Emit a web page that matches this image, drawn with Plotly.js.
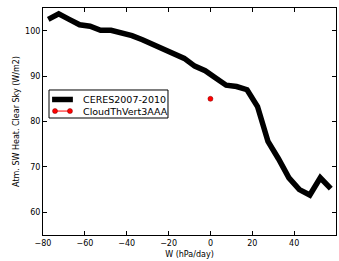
<!DOCTYPE html>
<html>
<head>
<meta charset="utf-8">
<script src="https://cdn.plot.ly/plotly-3.0.1.min.js"></script>
<style>html,body{margin:0;padding:0;background:#fff}#chart{width:339px;height:261px}</style>
</head>
<body>
<div id="chart"></div>
<script>
var omega = [-77.5,-72.5,-67.5,-62.5,-57.5,-52.5,-47.5,-42.5,-37.5,-32.5,-27.5,-22.5,-17.5,-12.5,-7.5,-2.5,2.5,7.5,12.5,17.5,22.5,27.5,32.5,37.5,42.5,47.5,52.5,57.5];
var ceres = [102.5,103.7,102.5,101.3,101.0,100.1,100.1,99.6,98.9,98.0,97.0,96.2,95.0,93.9,92.2,91.2,89.6,88.0,87.7,87.0,83.3,75.6,71.8,67.6,65.0,63.8,67.6,65.2];
var modelX = [0];
var modelY = [85];
var seriesNames = ['CERES2007-2010', 'CloudThVert3AAA'];
var xTicks = [-80,-60,-40,-20,0,20,40,60];
var yTicks = [60,70,80,90,100];

var font = {family: 'DejaVu Sans, sans-serif', size: 8, color: '#000'};
var legFont = {family: 'DejaVu Sans, sans-serif', size: 9.5, color: '#000'};
var data = [
  {x: omega, y: ceres, mode: 'lines', name: seriesNames[0],
   line: {color: '#000', width: 5.5}},
  {x: modelX, y: modelY, mode: 'lines+markers', name: seriesNames[1],
   line: {color: '#ff0000', width: 1},
   marker: {color: '#ff0000', size: 5, line: {color: '#800000', width: 0.5}}}
];

// legend drawn in paper coordinates (matplotlib-style compact legend)
var lg = {x0: 0.0205, x1: 0.4266, y0: 0.5154, y1: 0.6388, sx0: 0.031, sx1: 0.102, tx: 0.130, rows: [0.597, 0.546]};
var shapes = [
  {type: 'rect', xref: 'paper', yref: 'paper', x0: lg.x0, x1: lg.x1, y0: lg.y0, y1: lg.y1,
   line: {color: '#000', width: 1}, fillcolor: '#fff', layer: 'above'},
  {type: 'line', xref: 'paper', yref: 'paper', x0: lg.sx0, x1: lg.sx1, y0: lg.rows[0], y1: lg.rows[0],
   line: {color: '#000', width: 5.5}, layer: 'above'},
  {type: 'line', xref: 'paper', yref: 'paper', x0: lg.sx0 + 0.01, x1: lg.sx1 - 0.01, y0: lg.rows[1], y1: lg.rows[1],
   line: {color: '#ff0000', width: 1}, layer: 'above'}
];
[lg.sx0 + 0.01, lg.sx1 - 0.01].forEach(function (px) {
  shapes.push({type: 'circle', xref: 'paper', yref: 'paper', xsizemode: 'pixel', ysizemode: 'pixel',
    xanchor: px, yanchor: lg.rows[1], x0: -2.5, x1: 2.5, y0: -2.5, y1: 2.5,
    fillcolor: '#ff0000', line: {color: '#800000', width: 0.5}, layer: 'above'});
});
var annotations = seriesNames.map(function (n, i) {
  return {xref: 'paper', yref: 'paper', x: lg.tx, y: lg.rows[i], text: n, showarrow: false,
    xanchor: 'left', yanchor: 'middle', font: legFont};
});

var axisCommon = {showgrid: false, zeroline: false, showline: true, linecolor: '#000', linewidth: 1,
  mirror: 'allticks', ticks: 'inside', ticklen: 4, tickcolor: '#000', tickfont: font};
var layout = {
  width: 339, height: 261,
  margin: {l: 43, r: 3, t: 8, b: 26},
  paper_bgcolor: '#fff', plot_bgcolor: '#fff',
  font: font,
  showlegend: false,
  shapes: shapes,
  annotations: annotations,
  xaxis: Object.assign({}, axisCommon, {range: [-80, 60], tickvals: xTicks, ticktext: xTicks.map(function(v){return v<0?'\u2212'+(-v):String(v);}),
    title: {text: 'W (hPa/day)', font: font, standoff: 4}}),
  yaxis: Object.assign({}, axisCommon, {range: [55, 105], tickvals: yTicks, automargin: true,
    title: {text: 'Atm. SW Heat. Clear Sky (W/m2)', font: font, standoff: 4}})
};
Plotly.newPlot('chart', data, layout, {displayModeBar: false, staticPlot: true});
</script>
</body>
</html>
